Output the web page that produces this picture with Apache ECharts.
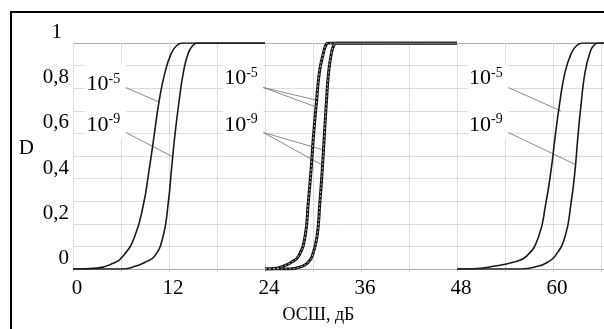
<!DOCTYPE html>
<html><head><meta charset="utf-8">
<script src="https://cdn.jsdelivr.net/npm/echarts@6/dist/echarts.min.js"></script>
<style>html,body{margin:0;padding:0;background:#fff}#c{width:604px;height:329px}</style>
</head><body><div id="c"></div>
<script>
const FONT = "'Liberation Serif','Times New Roman',serif";

// tick labels
const xLabelValues = [0, 12, 24, 36, 48, 60];
const yLabelValues = [0, 0.2, 0.4, 0.6, 0.8, 1];
const xName = 'ОСШ, дБ';
const yName = 'D';

// group 1 (x 0..24)
const g1_pf5_snr = [0, 3, 5, 6.25, 7.7, 8.83, 9.5, 10.1, 10.75, 11.5, 12.3, 13.0, 13.75, 24];
const g1_pf5_D   = [0, 0.004, 0.025, 0.057, 0.143, 0.29, 0.435, 0.58, 0.74, 0.87, 0.955, 0.99, 1, 1];
const g1_pf9_snr = [0, 6, 7.9, 9, 10.2, 11.25, 11.9, 12.3, 12.7, 13.25, 13.8, 14.4, 15.0, 15.6, 24];
const g1_pf9_D   = [0, 0, 0.013, 0.03, 0.057, 0.143, 0.29, 0.435, 0.58, 0.74, 0.87, 0.955, 0.99, 1, 1];
// group 2 (x 24..48), solid + dashed pairs
const g2_pf5_snr = [24, 25, 26.3, 27.3, 28.2, 29, 29.4, 29.75, 30.04, 30.4, 30.8, 31.3, 31.6, 31.9, 48];
const g2_pf5_D   = [0, 0.001, 0.013, 0.03, 0.057, 0.143, 0.29, 0.435, 0.58, 0.725, 0.87, 0.955, 0.99, 1, 1];
const g2_pf9_snr = [24, 27, 28.7, 29.4, 29.9, 30.5, 30.85, 31.15, 31.4, 31.65, 31.95, 32.3, 32.6, 32.9, 48];
const g2_pf9_D   = [0, 0, 0.013, 0.03, 0.057, 0.143, 0.29, 0.435, 0.58, 0.725, 0.87, 0.955, 0.99, 1, 1];
// group 3 (x 48..)
const g3_pf5_snr = [48, 50, 52.75, 55, 56.7, 58.2, 59.1, 59.75, 60.25, 60.8, 61.5, 62.3, 63.0, 63.8, 66.4];
const g3_pf5_D   = [0, 0.001, 0.013, 0.03, 0.057, 0.143, 0.29, 0.435, 0.58, 0.725, 0.87, 0.955, 0.99, 1, 1];
const g3_pf9_snr = [48, 56, 58.2, 59.3, 60.25, 61.5, 62.25, 62.75, 63.1, 63.5, 64, 64.6, 65.1, 65.7, 66.4];
const g3_pf9_D   = [0, 0, 0.013, 0.03, 0.057, 0.143, 0.29, 0.435, 0.58, 0.725, 0.87, 0.955, 0.99, 1, 1];

// annotations (data units)
const labelExps = ['-5', '-9'];
const labelSnr = [6.59, 23.79, 54.41];
const label5D = [0.817, 0.843, 0.843];
const label9D = [0.637, 0.637, 0.637];
const leaderStartD5 = 0.803, leaderStartD9 = 0.604;
const leaderEnds5 = [[[10.75, 0.739]], [[30.67, 0.745], [30.46, 0.716]], [[61.0, 0.699]]];
const leaderEnds9 = [[[12.5, 0.496]], [[31.4, 0.526], [31.4, 0.455]], [[62.83, 0.462]]];
const boxLeftSnr = [1.5, 18.75, 49.4];
const boxD = [0.575, 0.905];

const zip = (a, b) => a.map((v, i) => [v, b[i]]);
const series = [];

// white boxes behind labels
series.push({
  type: 'line', data: [], z: 2, silent: true, symbol: 'none',
  markArea: {
    silent: true, itemStyle: { color: '#fff', opacity: 1 },
    data: boxLeftSnr.map((l, i) => [{ coord: [l, boxD[0]] }, { coord: [labelSnr[i], boxD[1]] }])
  }
});

function curve(snr, D, opt) {
  series.push(Object.assign({
    type: 'line', data: zip(snr, D), symbol: 'none', smooth: 0.5,
    z: 4, clip: true, silent: true,
    lineStyle: { color: '#1a1a1a', width: 1.6 }
  }, opt || {}));
}
curve(g1_pf5_snr, g1_pf5_D);
curve(g1_pf9_snr, g1_pf9_D);
curve(g2_pf5_snr, g2_pf5_D, { lineStyle: { color: '#111', width: 3 } });
curve(g2_pf5_snr, g2_pf5_D, { z: 5, lineStyle: { color: '#bdbdbd', width: 1, type: [2, 2] } });
curve(g2_pf9_snr, g2_pf9_D, { lineStyle: { color: '#111', width: 3 } });
curve(g2_pf9_snr, g2_pf9_D, { z: 5, lineStyle: { color: '#bdbdbd', width: 1, type: [2, 2] } });
curve(g3_pf5_snr, g3_pf5_D);
curve(g3_pf9_snr, g3_pf9_D);

// leader lines
labelSnr.forEach((sx, i) => {
  leaderEnds5[i].forEach(e => series.push({ type: 'line', data: [[sx, leaderStartD5], e], symbol: 'none', z: 3, silent: true, lineStyle: { color: '#8c8c8c', width: 1 } }));
  leaderEnds9[i].forEach(e => series.push({ type: 'line', data: [[sx, leaderStartD9], e], symbol: 'none', z: 3, silent: true, lineStyle: { color: '#8c8c8c', width: 1 } }));
});

// label texts
const labelData = [];
labelSnr.forEach((sx, i) => {
  labelData.push({ name: labelExps[0], value: [sx, label5D[i]] });
  labelData.push({ name: labelExps[1], value: [sx, label9D[i]] });
});
series.push({
  type: 'scatter', data: labelData, symbolSize: 1, itemStyle: { color: 'rgba(0,0,0,0)' }, z: 6, silent: true,
  labelLayout: { hideOverlap: false },
  label: {
    show: true, position: 'left', distance: 5, color: '#000', opacity: 1,
    formatter: p => '{b|10}{s|' + p.name + '}',
    rich: {
      b: { fontFamily: FONT, fontSize: 22, color: '#000' },
      s: { fontFamily: FONT, fontSize: 14, color: '#000', padding: [0, 0, 11, 0] }
    }
  }
});

const yLineColors = ['#b0b0b0'].concat(Array(9).fill('#dcdcdc')).concat(['#b0b0b0']);

const chart = echarts.init(document.getElementById('c'), null, { renderer: 'canvas' });
chart.setOption({
  animation: false,
  backgroundColor: '#fff',
  grid: { left: 73, top: 43, right: 0, bottom: 56, containLabel: false },
  xAxis: {
    type: 'value', min: 0, max: 66.375, interval: 6,
    name: xName, nameLocation: 'middle', nameGap: 37,
    nameTextStyle: { fontFamily: FONT, fontSize: 18, color: '#000', padding: [0, 40, 0, 0] },
    axisLine: { show: true, lineStyle: { color: '#a8a8a8', width: 1 } },
    axisTick: { show: true, length: 3, lineStyle: { color: '#d0d0d0' } },
    splitLine: { show: true, lineStyle: { color: '#dcdcdc', width: 1 } },
    axisLabel: {
      showMaxLabel: false, margin: 9, color: '#000', fontFamily: FONT, fontSize: 21, padding: [0, 0, 0, 8],
      formatter: v => xLabelValues.includes(v) ? String(v) : ''
    }
  },
  yAxis: {
    type: 'value', min: 0, max: 1, interval: 0.1,
    name: yName, nameLocation: 'middle', nameGap: 39, nameRotate: 0,
    nameTextStyle: { fontFamily: FONT, fontSize: 21, color: '#000', verticalAlign: 'bottom', lineHeight: 16 },
    axisLine: { show: false }, axisTick: { show: false },
    splitLine: { show: true, lineStyle: { color: yLineColors, width: 1 } },
    axisLabel: {
      margin: 4, color: '#000', fontFamily: FONT, fontSize: 21, verticalAlign: 'bottom',
      formatter: v => {
        const r = Math.round(v * 10) / 10;
        if (!yLabelValues.some(t => Math.abs(t - r) < 1e-9)) return '';
        if (r === 1) return '{one|1}';
        return String(r).replace('.', ',');
      },
      rich: { one: { fontFamily: FONT, fontSize: 21, color: '#000', padding: [0, 7, 0, 0] } }
    }
  },
  graphic: [{
    type: 'rect', shape: { x: 11, y: 12, width: 700, height: 400 },
    style: { fill: 'none', stroke: '#000', lineWidth: 2 }, z: 100, silent: true
  }],
  series: series
});
</script></body></html>
